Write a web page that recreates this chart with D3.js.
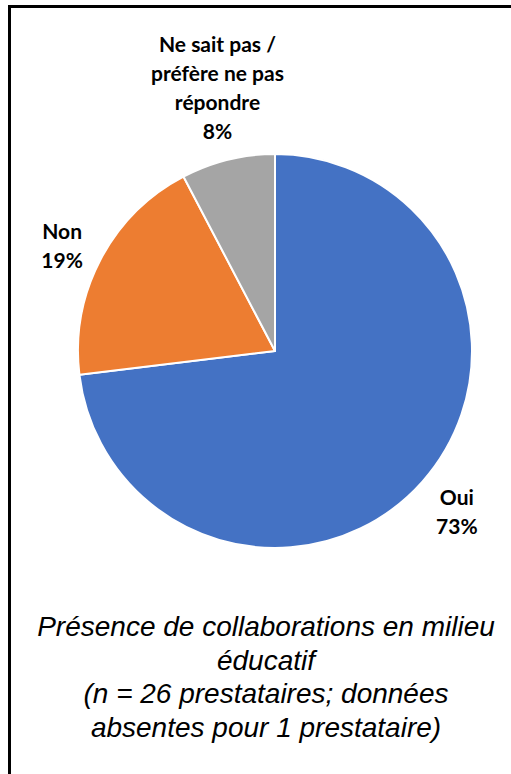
<!DOCTYPE html>
<html>
<head>
<meta charset="utf-8">
<script src="https://cdn.jsdelivr.net/npm/d3@7"></script>
<style>
  html, body { margin: 0; padding: 0; background: #fff; }
  svg { display: block; }
</style>
</head>
<body>
<svg id="chart" width="511" height="774"></svg>
<script>
// ---- data ----
const categories = ["Oui", "Non", "Ne sait pas / préfère ne pas répondre"];
const counts = [19, 5, 2];
const colors = ["#4472C4", "#ED7D31", "#A5A5A5"];
const titleLines = [
  "Présence de collaborations en milieu",
  "éducatif",
  "(n = 26 prestataires; données",
  "absentes pour 1 prestataire)"
];

// ---- layout ----
const cx = 275, cy = 351, R = 197;
const svg = d3.select("#chart");

// frame
svg.append("rect")
  .attr("x", 9.5).attr("y", 6.5)
  .attr("width", 530).attr("height", 800)
  .attr("fill", "#fff").attr("stroke", "#000").attr("stroke-width", 3);

const data = categories.map((c, i) => ({ cat: c, value: counts[i], color: colors[i] }));
const total = d3.sum(counts);
const pie = d3.pie().value(d => d.value).sort(null);
const arcs = pie(data);
const arc = d3.arc().innerRadius(0).outerRadius(R);

const g = svg.append("g").attr("transform", `translate(${cx},${cy})`);
g.selectAll("path.slice")
  .data(arcs)
  .join("path")
  .attr("class", "slice")
  .attr("d", arc)
  .attr("fill", d => d.data.color)
  .attr("stroke", "#fff")
  .attr("stroke-width", 2)
  .attr("stroke-linejoin", "round");

// labels
const fmt = d3.format(".0%");
const labelFont = "bold 21px Lato, 'Open Sans', sans-serif";
const lineH = 29;
const maxW = 145;
const ctx = document.createElement("canvas").getContext("2d");
ctx.font = labelFont;
function wrap(text) {
  const words = text.split(" ");
  const lines = [];
  let cur = "";
  words.forEach(w => {
    const t = cur ? cur + " " + w : w;
    if (ctx.measureText(t).width > maxW && cur) { lines.push(cur); cur = w; }
    else cur = t;
  });
  if (cur) lines.push(cur);
  return lines;
}

const edgeArc = d3.arc().innerRadius(R).outerRadius(R);
const gap = 10;
const ex = 0.4;
arcs.forEach(a => {
  const lines = wrap(a.data.cat).concat([fmt(a.data.value / total)]);
  const w = d3.max(lines, l => ctx.measureText(l).width);
  const h = lines.length * lineH;
  let [x, y] = edgeArc.centroid(a);
  const mid = (a.startAngle + a.endAngle) / 2;
  let dx = Math.sin(mid) * Math.pow(Math.abs(Math.sin(mid)), ex);
  let dy = -Math.cos(mid) * Math.pow(Math.abs(Math.cos(mid)), ex);
  const n = Math.hypot(dx, dy); dx /= n; dy /= n;
  // push outward until box clears the circle
  for (let t = 0; t < 600; t++) {
    const nx = Math.max(x - w / 2, Math.min(0, x + w / 2));
    const ny = Math.max(y - h / 2, Math.min(0, y + h / 2));
    if (Math.hypot(nx, ny) >= R + gap) break;
    x += dx * 0.5; y += dy * 0.5;
  }
  const t = g.append("text")
    .attr("text-anchor", "middle")
    .style("font", labelFont)
    .attr("fill", "#000");
  lines.forEach((l, i) => {
    t.append("tspan")
      .attr("x", x)
      .attr("y", y - h / 2 + lineH * i + lineH * 0.82)
      .text(l);
  });
});

// title
const title = svg.append("text")
  .attr("text-anchor", "middle")
  .style("font", "italic 28px 'Liberation Sans', Arial, sans-serif")
  .attr("fill", "#000");
titleLines.forEach((l, i) => {
  title.append("tspan").attr("x", 266).attr("y", 636 + i * 33.7).text(l);
});
</script>
</body>
</html>
